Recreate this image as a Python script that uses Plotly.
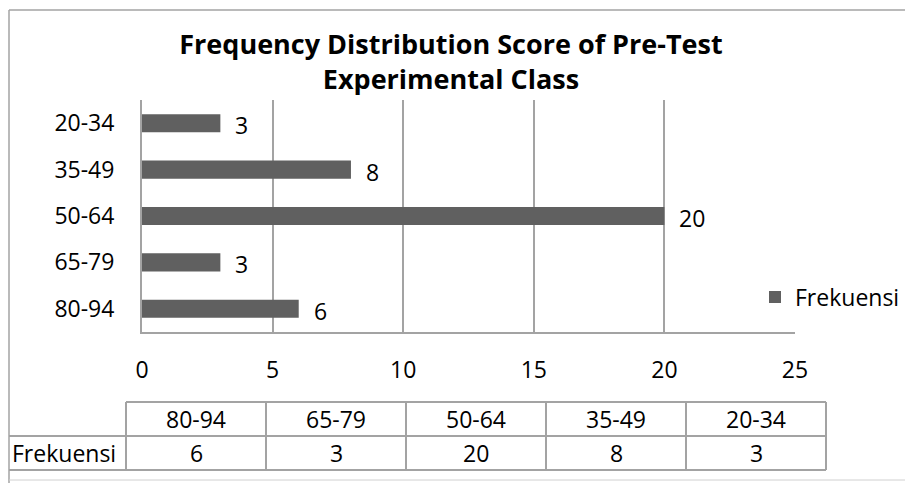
import plotly.graph_objects as go

# chart data
CATEGORIES = ["80-94", "65-79", "50-64", "35-49", "20-34"]
FREKUENSI = [6, 3, 20, 8, 3]
SERIES_NAME = "Frekuensi"
X_TICKS = [0, 5, 10, 15, 20, 25]
TITLE = "Frequency Distribution Score of Pre-Test<br>Experimental Class"

W, H = 913, 483
OFF = 8  # page body margin shifts the figure by 8px
FONT = "'Open Sans', Lato, sans-serif"
GRID = "#a3a3a3"
BAR = "#606060"


def px(x):
    # screen x (pixels) -> paper fraction
    return (x - OFF) / W


def py(y):
    # screen y (pixels) -> paper fraction
    return 1 - (y - OFF) / H


fig = go.Figure()
fig.add_trace(
    go.Bar(
        x=FREKUENSI,
        y=CATEGORIES,
        orientation="h",
        name=SERIES_NAME,
        marker={"color": BAR, "line": {"width": 0}},
        showlegend=True,
    )
)

# data labels right of each bar
for cat, val in zip(CATEGORIES, FREKUENSI):
    fig.add_annotation(
        x=val, y=cat, xref="x", yref="y", text=str(val), showarrow=False,
        xanchor="left", yanchor="middle", xshift=13, yshift=-2,
        font={"size": 23, "color": "#000000", "family": FONT},
    )

shapes = []
# outer chart border (left, top, bottom)
border = {"color": GRID, "width": 1.5}
shapes.append(dict(type="line", xref="paper", yref="paper", x0=px(9), x1=px(9),
                   y0=0, y1=py(10), line=border))
shapes.append(dict(type="line", xref="paper", yref="paper", x0=px(9), x1=1,
                   y0=py(10), y1=py(10), line=border))
shapes.append(dict(type="line", xref="paper", yref="paper", x0=px(9), x1=1,
                   y0=py(480), y1=py(480), line={"color": "#d0d0d0", "width": 1}))

# data table under the chart
col_left, col_w, name_left = 126, 140, 9
top, mid, bot = 402, 436, 470
n = len(CATEGORIES)
right = col_left + col_w * n
tline = {"color": GRID, "width": 2}
shapes.append(dict(type="line", xref="paper", yref="paper", x0=px(col_left), x1=px(right),
                   y0=py(top), y1=py(top), line=tline))
shapes.append(dict(type="line", xref="paper", yref="paper", x0=px(name_left), x1=px(right),
                   y0=py(mid), y1=py(mid), line=tline))
shapes.append(dict(type="line", xref="paper", yref="paper", x0=px(name_left), x1=px(right),
                   y0=py(bot), y1=py(bot), line=tline))
for i in range(n + 1):
    xx = col_left + col_w * i
    shapes.append(dict(type="line", xref="paper", yref="paper", x0=px(xx), x1=px(xx),
                       y0=py(top), y1=py(bot), line=tline))

tfont = {"size": 23, "color": "#000000", "family": FONT}
for i, (cat, val) in enumerate(zip(CATEGORIES, FREKUENSI)):
    cx = col_left + col_w * i + col_w / 2
    fig.add_annotation(x=px(cx), y=py((top + mid) / 2), xref="paper", yref="paper",
                       text=cat, showarrow=False, xanchor="center", yanchor="middle",
                       font=tfont)
    fig.add_annotation(x=px(cx), y=py((mid + bot) / 2), xref="paper", yref="paper",
                       text=str(val), showarrow=False, xanchor="center", yanchor="middle",
                       font=tfont)
fig.add_annotation(x=px(name_left + 1), y=py((mid + bot) / 2), xref="paper", yref="paper",
                   text=SERIES_NAME, showarrow=False, xanchor="left", yanchor="middle",
                   font=tfont)

fig.update_layout(
    width=W,
    height=H,
    margin={"l": 0, "r": 0, "t": 0, "b": 0, "autoexpand": False},
    paper_bgcolor="white",
    plot_bgcolor="white",
    font={"family": FONT, "size": 23, "color": "#000000"},
    title={
        "text": f"<b>{TITLE}</b>",
        "x": px(451),
        "xanchor": "center",
        "y": py(54),
        "yanchor": "middle",
        "font": {"size": 27, "family": FONT, "color": "#000000"},
    },
    bargap=0.61,
    xaxis={
        "domain": [px(142), px(795)],
        "range": [0, 25],
        "tickvals": X_TICKS,
        "showgrid": True,
        "gridcolor": GRID,
        "gridwidth": 2,
        "showline": True,
        "linecolor": GRID,
        "linewidth": 2,
        "zeroline": False,
        "ticks": "",
        "ticklabelstandoff": 16,
        "automargin": False,
        "fixedrange": True,
    },
    yaxis={
        "domain": [py(332), py(100)],
        "type": "category",
        "categoryorder": "array",
        "categoryarray": CATEGORIES,
        "showgrid": False,
        "showline": True,
        "linecolor": GRID,
        "linewidth": 2,
        "ticks": "",
        "ticklabelstandoff": 21,
        "automargin": False,
        "fixedrange": True,
    },
    legend={
        "x": px(755),
        "y": py(297),
        "xanchor": "left",
        "yanchor": "middle",
        "font": {"size": 23, "family": FONT},
        "bgcolor": "rgba(0,0,0,0)",
    },
    shapes=shapes,
    hovermode=False,
)

fig.write_html("out.html")
